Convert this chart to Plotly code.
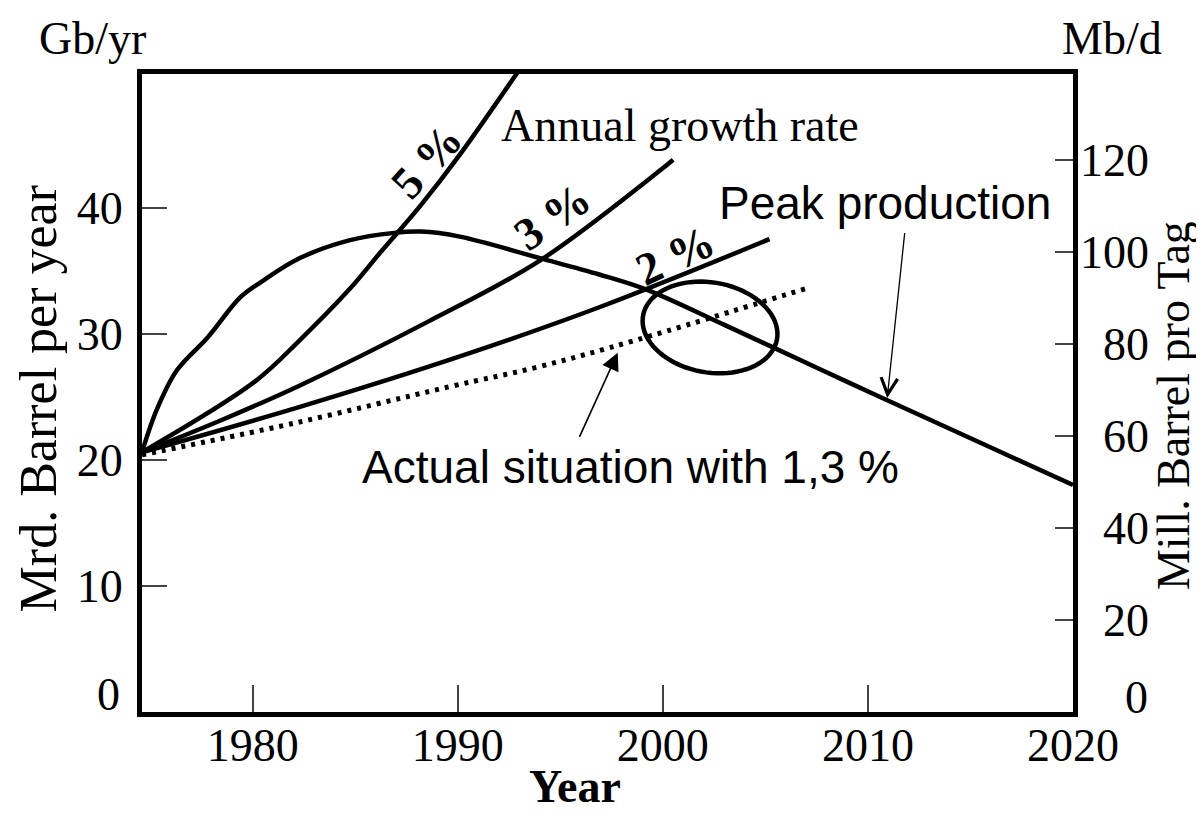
import numpy as np
import plotly.graph_objects as go

# curves (year, Gb/yr)
peak_years = [1974.6, 1975.3, 1976.3, 1977.8, 1979.4, 1980.4, 1982.3, 1984.7, 1986.9, 1988.2, 1990.1,
              1994.0, 1996.9, 1999.2, 2003.0, 2005.4, 2009.1, 2012.6, 2016.5, 2020.0]
peak_gb = [20.6, 23.9, 27.1, 29.7, 32.9, 34.1, 36.0, 37.4, 38.0, 38.1, 37.7,
           36.0, 34.7, 33.5, 30.7, 28.9, 26.1, 23.5, 20.6, 18.0]

g5_years = [1974.6, 1980.1, 1982.3, 1984.7, 1986.2, 1988.2, 1990.1, 1992.9]
g5_gb = [20.6, 26.2, 29.5, 33.5, 36.4, 40.2, 44.2, 50.7]

g3_years = [1974.6, 1978.4, 1982.3, 1988.6, 1994.0, 1999.9, 2000.5]
g3_gb = [20.6, 23.1, 25.9, 31.0, 35.8, 43.0, 43.8]

g2_years = [1974.6, 1982.3, 1990.1, 1996.9, 2005.2]
g2_gb = [20.6, 24.2, 28.2, 32.1, 37.5]

actual_years = [1974.6, 1982.0, 1989.6, 1994.0, 1998.7, 2007.2]
actual_gb = [20.4, 22.9, 25.8, 27.4, 29.5, 33.7]

x_ticks = [1980, 1990, 2000, 2010, 2020]
left_ticks = [10, 20, 30, 40]
right_ticks = [20, 40, 60, 80, 100, 120]

GB_TO_MBD = 1000 / 365
y_top = 50.6
x_range = [1974.6, 2020]

SERIF = "Liberation Serif"
SANS = "Liberation Sans"
FS = 46

fig = go.Figure()

line = dict(color="black", width=4.5, shape="spline", smoothing=1.0)
for xs, ys in [(peak_years, peak_gb), (g5_years, g5_gb), (g3_years, g3_gb), (g2_years, g2_gb)]:
    fig.add_trace(go.Scatter(x=xs, y=ys, mode="lines", line=line, showlegend=False, hoverinfo="skip"))

fig.add_trace(go.Scatter(x=actual_years, y=actual_gb, mode="lines",
                         line=dict(color="black", width=5, dash="4px,6px", shape="spline"),
                         showlegend=False, hoverinfo="skip"))

# invisible point so the right axis gets drawn
fig.add_trace(go.Scatter(x=[x_range[0]], y=[0], yaxis="y2", mode="markers",
                         marker=dict(opacity=0), showlegend=False, hoverinfo="skip"))

# ellipse around the crossing (tilted, built in pixel space then put back to data units)
px_per_year = 931 / (x_range[1] - x_range[0])
px_per_gb = 638 / y_top
cx, cy = 2002.3, 30.5
a_px, b_px, tilt = 68, 45, np.deg2rad(10)
t = np.linspace(0, 2 * np.pi, 80)
ex = a_px * np.cos(t) * np.cos(tilt) - b_px * np.sin(t) * np.sin(tilt)
ey = a_px * np.cos(t) * np.sin(tilt) + b_px * np.sin(t) * np.cos(tilt)
pts = [f"{cx + dx / px_per_year:.4f},{cy - dy / px_per_gb:.4f}" for dx, dy in zip(ex, ey)]
fig.add_shape(type="path", xref="x", yref="y", path="M " + " L ".join(pts) + " Z",
              line=dict(color="black", width=4.5))

# rate labels along the curves
for txt, x, y, ang in [("5 %", 1988.45, 43.7, -48), ("3 %", 1994.6, 39.3, -35), ("2 %", 2000.6, 36.2, -25)]:
    fig.add_annotation(x=x, y=y, text=f"<b>{txt}</b>", textangle=ang, showarrow=False,
                       font=dict(family=SERIF, size=FS, color="black"))

fig.add_annotation(x=2000.84, y=46.5, text="Annual growth rate", showarrow=False,
                   font=dict(family=SERIF, size=FS, color="black"))
fig.add_annotation(x=2010.84, y=40.4, text="Peak production", showarrow=False,
                   font=dict(family=SANS, size=FS, color="black"))
fig.add_annotation(x=1998.4, y=19.4, text="Actual situation with 1,3 %", showarrow=False,
                   font=dict(family=SANS, size=FS, color="black"))

# arrows
fig.add_annotation(x=2010.94, y=24.9, ax=2011.8, ay=38.1, axref="x", ayref="y", text="",
                   showarrow=True, arrowhead=5, arrowsize=2.5, arrowwidth=1.3, arrowcolor="black")
fig.add_annotation(x=1997.8, y=28.5, ax=1995.9, ay=21.7, axref="x", ayref="y", text="",
                   showarrow=True, arrowhead=2, arrowsize=2.2, arrowwidth=1.6, arrowcolor="black")

# zero labels sit a bit above the bottom edge
fig.add_annotation(xref="paper", x=0, xanchor="right", xshift=-20, y=0, yshift=18, text="0",
                   showarrow=False, font=dict(family=SERIF, size=FS, color="black"))
fig.add_annotation(xref="paper", x=1, xanchor="right", xshift=77, y=0, yshift=15, text="0",
                   showarrow=False, font=dict(family=SERIF, size=FS, color="black"))

# titles and units
for txt, x, y, ang, size in [("Mrd. Barrel per year", -0.1117, 0.49, -90, 52),
                             ("Mill. Barrel pro Tag", 1.1074, 0.481, -90, FS),
                             ("<b>Year</b>", 0.465, -0.116, 0, FS),
                             ("Gb/yr", -0.0537, 1.0564, 0, FS),
                             ("Mb/d", 1.042, 1.0564, 0, FS)]:
    fig.add_annotation(xref="paper", yref="paper", x=x, y=y, xanchor="center", yanchor="middle",
                       text=txt, textangle=ang, showarrow=False,
                       font=dict(family=SERIF, size=size, color="black"))

fs = "\u2007"
fig.update_layout(
    template="none",
    width=1196, height=808,
    margin=dict(l=134, r=131, t=66, b=104),
    paper_bgcolor="white", plot_bgcolor="white",
    font=dict(family=SERIF, size=FS, color="black"),
    showlegend=False,
    xaxis=dict(range=x_range, tickvals=x_ticks, ticks="inside", ticklen=27, tickwidth=1.5,
               tickcolor="#444", showgrid=False, zeroline=False, showline=True, linewidth=5,
               linecolor="black", mirror=True, ticklabelstandoff=-11,
               tickfont=dict(family=SERIF, size=FS, color="black")),
    yaxis=dict(range=[0, y_top], tickvals=left_ticks, ticks="inside", ticklen=25, tickwidth=1.5,
               tickcolor="#444", showgrid=False, zeroline=False, showline=True, linewidth=5,
               linecolor="black", mirror=True, ticklabelstandoff=5,
               tickfont=dict(family=SERIF, size=FS, color="black")),
    yaxis2=dict(range=[0, y_top * GB_TO_MBD], overlaying="y", side="right",
                tickvals=right_ticks,
                ticktext=[(fs * (3 - len(str(v)))) + str(v) for v in right_ticks],
                ticks="inside", ticklen=18, tickwidth=1.5, tickcolor="#444",
                showgrid=False, zeroline=False, showline=False, ticklabelstandoff=6,
                tickfont=dict(family=SERIF, size=FS, color="black")),
)

fig.write_html("out.html")
